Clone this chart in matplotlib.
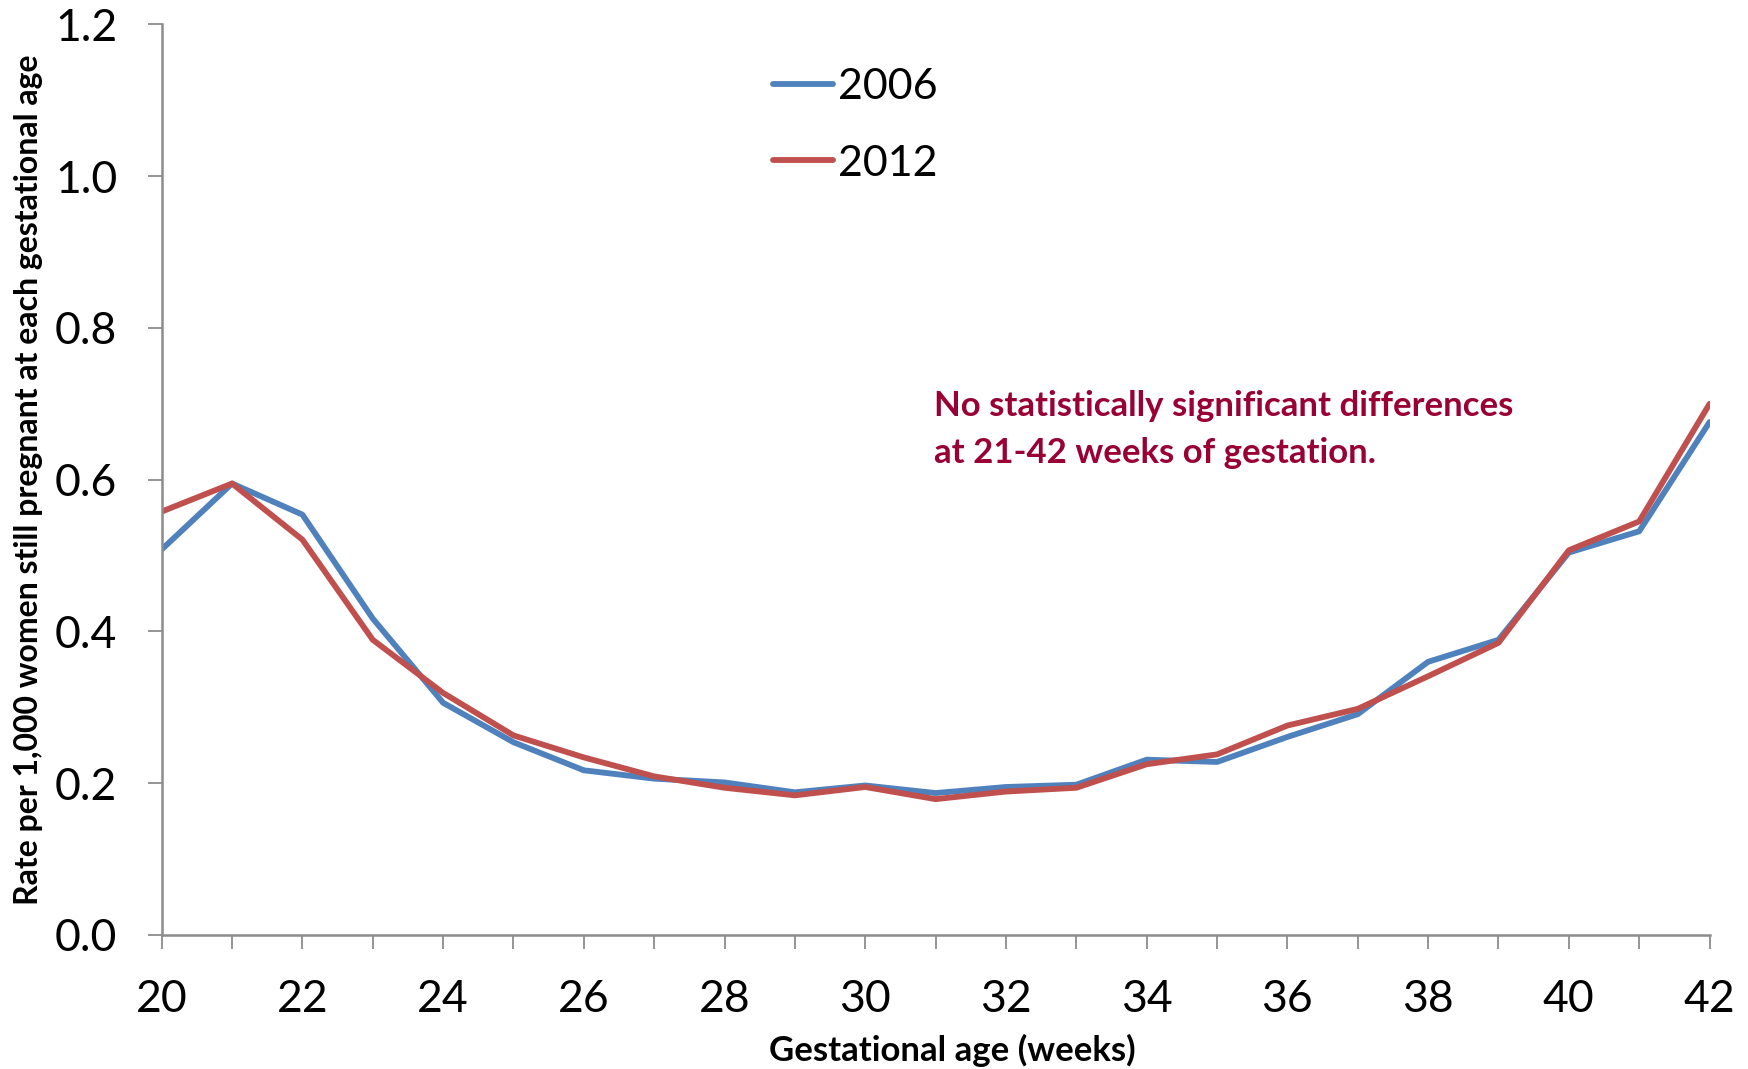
import matplotlib
matplotlib.use("Agg")
import matplotlib.pyplot as plt

weeks = list(range(20, 43))
rate_2006 = [0.508, 0.595, 0.554, 0.417, 0.306, 0.254, 0.217, 0.206, 0.201, 0.188,
             0.197, 0.187, 0.195, 0.198, 0.231, 0.228, 0.261, 0.291, 0.360, 0.389,
             0.504, 0.532, 0.676]
rate_2012 = [0.558, 0.595, 0.521, 0.389, 0.319, 0.263, 0.234, 0.209, 0.194, 0.184,
             0.195, 0.179, 0.189, 0.194, 0.225, 0.238, 0.276, 0.298, 0.341, 0.385,
             0.507, 0.545, 0.700]
y_ticks = [0.0, 0.2, 0.4, 0.6, 0.8, 1.0, 1.2]
x_labels = list(range(20, 43, 2))

plt.rcParams['font.family'] = ['Lato', 'DejaVu Sans']

fig = plt.figure(figsize=(17.48, 10.69), dpi=100)
ax = fig.add_axes([0.0925, 0.1254, 0.8855, 0.8517])

ax.plot(weeks, rate_2006, color='#4F81BD', lw=4.2, label='2006', solid_capstyle='round')
ax.plot(weeks, rate_2012, color='#C0504D', lw=4.2, label='2012', solid_capstyle='round')

ax.set_xlim(20, 42)
ax.set_ylim(0, 1.2)
ax.set_yticks(y_ticks)
ax.set_yticklabels([f"{v:.1f}" for v in y_ticks])
ax.set_xticks(weeks)
ax.set_xticklabels([str(w) if w in x_labels else "" for w in weeks])

for s in ['top', 'right']:
    ax.spines[s].set_visible(False)
for s in ['left', 'bottom']:
    ax.spines[s].set_color('#8c8c8c')
    ax.spines[s].set_linewidth(1.8)
ax.tick_params(axis='both', colors='#8c8c8c', width=1.3, length=10, labelcolor='black',
               labelsize=32)
ax.tick_params(axis='x', pad=22)
ax.tick_params(axis='y', pad=22)

ax.set_xlabel("Gestational age (weeks)", fontweight='bold', fontsize=25)
ax.xaxis.set_label_coords(0.511, -0.127)
ax.xaxis.label.set_va('center')
ax.set_ylabel("Rate per 1,000 women still pregnant at each gestational age",
              fontweight='bold', fontsize=23)
ax.yaxis.set_label_coords(-0.0863, 0.5)
ax.yaxis.label.set_va('center')

ax.text(0.499, 0.598, "No statistically significant differences\nat 21-42 weeks of gestation.",
        transform=ax.transAxes, color='#990033', fontsize=25, fontweight='bold',
        va='top', ha='left', linespacing=1.55)

ax.legend(loc='upper left', bbox_to_anchor=(0.37, 0.995), frameon=False, fontsize=31,
          handlelength=1.4, handletextpad=0.1, labelspacing=0.9)

fig.savefig("out.png", dpi=100)
